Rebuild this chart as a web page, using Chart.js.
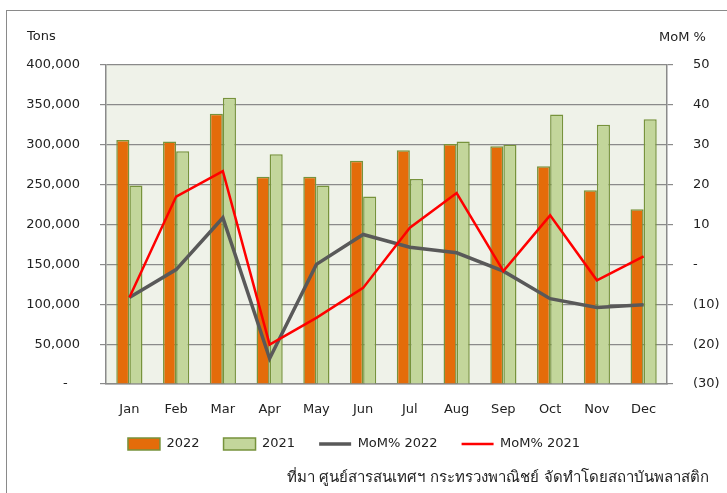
<!DOCTYPE html>
<html>
<head>
<meta charset="utf-8">
<script src="https://cdn.jsdelivr.net/npm/chart.js@4.4.1/dist/chart.umd.min.js"></script>
<style>
  html, body { margin: 0; background: #fff; overflow: hidden; }
  #wrap { position: relative; width: 727px; height: 493px; overflow: hidden; font-family: "DejaVu Sans", sans-serif; color: #222; }
  #frame { position: absolute; left: 6px; top: 10px; width: 721px; height: 483px; border-top: 1px solid #8a8a8a; border-left: 1px solid #8a8a8a; box-sizing: border-box; }
  #chart { position: absolute; left: 0; top: 0; }
  .lbl { position: absolute; font-size: 13px; line-height: 16px; white-space: nowrap; }
  #tons { left: 27px; top: 28px; }
  #mom { left: 659px; top: 29px; }
  #source { right: 18px; top: 468px; font-size: 15px; line-height: 18px; }
</style>
</head>
<body>
<div id="wrap">
  <div id="frame"></div>
  <canvas id="chart" width="727" height="493"></canvas>
  <div class="lbl" id="tons">Tons</div>
  <div class="lbl" id="mom">MoM %</div>
  <div class="lbl" id="source">ที่มา ศูนย์สารสนเทศฯ กระทรวงพาณิชย์ จัดทำโดยสถาบันพลาสติก</div>
</div>
<script>
// data
const months = ["Jan", "Feb", "Mar", "Apr", "May", "Jun", "Jul", "Aug", "Sep", "Oct", "Nov", "Dec"];
const tons2022 = [306000, 304000, 339000, 260000, 260000, 280000, 293000, 301000, 298000, 273000, 243000, 219000];
const tons2021 = [249000, 292000, 359000, 288000, 249000, 235000, 257000, 304000, 300000, 338000, 325000, 332000];
const mom2022 = [-8.3, -1.3, 11.7, -23.6, 0, 7.5, 4.3, 2.9, -1.7, -8.6, -10.8, -10.1];
const mom2021 = [-8.3, 17.0, 23.4, -20.1, -13.4, -5.9, 9.2, 17.9, -1.7, 12.3, -4.0, 2.0];

const gridColor = "#8a8a8a";
const textColor = "#222";
const font = { family: "DejaVu Sans", size: 13 };

// plot area background
const plotBg = {
    id: "plotBg",
    beforeDraw(chart) {
        const {ctx, chartArea: a} = chart;
        ctx.save();
        ctx.fillStyle = "#eff2e9";
        ctx.fillRect(a.left, a.top, a.right - a.left, a.bottom - a.top);
        ctx.restore();
    }
};

// nudge the legend box to where the original sits
const legendShift = {
    id: "legendShift",
    afterLayout(chart) {
        const lg = chart.legend;
        lg.left -= 9.5; lg.right -= 9.5;
        lg.top -= 5; lg.bottom -= 5;
    }
};

new Chart(document.getElementById("chart").getContext("2d"), {
    type: "bar",
    data: {
        labels: months,
        datasets: [{
            label: "2022",
            data: tons2022,
            backgroundColor: "#e46c0a",
            borderColor: "#77933c",
            borderWidth: 1.5,
            yAxisID: "y",
            order: 3,
            pointStyle: "rect",
        }, {
            label: "2021",
            data: tons2021,
            backgroundColor: "#c3d69b",
            borderColor: "#77933c",
            borderWidth: 1.5,
            yAxisID: "y",
            order: 3,
            pointStyle: "rect",
        }, {
            type: "line",
            label: "MoM% 2022",
            data: mom2022,
            borderColor: "#595959",
            backgroundColor: "#595959",
            borderWidth: 3.5,
            pointRadius: 0,
            tension: 0,
            yAxisID: "y1",
            order: 1,
            pointStyle: "line",
        }, {
            type: "line",
            label: "MoM% 2021",
            data: mom2021,
            borderColor: "#ff0000",
            backgroundColor: "#ff0000",
            borderWidth: 2.5,
            pointRadius: 0,
            tension: 0,
            yAxisID: "y1",
            order: 0,
            pointStyle: "line",
        }],
    },
    options: {
        responsive: false,
        animation: false,
        layout: {
            padding: { top: 65, left: 0, right: 0, bottom: 27.4 },
        },
        datasets: {
            bar: { categoryPercentage: 0.56, barPercentage: 1 },
        },
        scales: {
            x: {
                grid: { display: false, drawTicks: false },
                border: { display: true, color: gridColor, width: 1.5 },
                ticks: { color: textColor, font: font, padding: 18, autoSkip: false, maxRotation: 0, minRotation: 0 },
                afterFit(scale) { scale.height = 34.6; },
            },
            y: {
                position: "left",
                min: 0,
                max: 400000,
                grid: { color: gridColor, lineWidth: 1.2, tickLength: 6 },
                border: { display: true, color: gridColor, width: 1.5 },
                ticks: {
                    stepSize: 50000,
                    color: textColor,
                    font: font,
                    padding: 20,
                    callback: (v) => v === 0 ? "-   " : v.toLocaleString("en-US"),
                },
                afterFit(scale) { scale.width = 106; },
            },
            y1: {
                position: "right",
                min: -30,
                max: 50,
                grid: { drawOnChartArea: false, color: gridColor, lineWidth: 1.2, tickLength: 6 },
                border: { display: true, color: gridColor, width: 1.5 },
                ticks: {
                    stepSize: 10,
                    color: textColor,
                    font: font,
                    padding: 20,
                    callback: (v) => v === 0 ? "-" : (v < 0 ? "(" + Math.abs(v) + ")" : String(v)),
                },
                afterFit(scale) { scale.width = 60; },
            },
        },
        plugins: {
            legend: {
                position: "bottom",
                labels: {
                    color: textColor,
                    font: font,
                    usePointStyle: true,
                    pointStyleWidth: 32,
                    boxHeight: 12,
                    padding: 24,
                    sort: (a, b) => a.datasetIndex - b.datasetIndex,
                },
            },
            tooltip: { enabled: false },
        },
    },
    plugins: [plotBg, legendShift],
});
</script>
</body>
</html>
